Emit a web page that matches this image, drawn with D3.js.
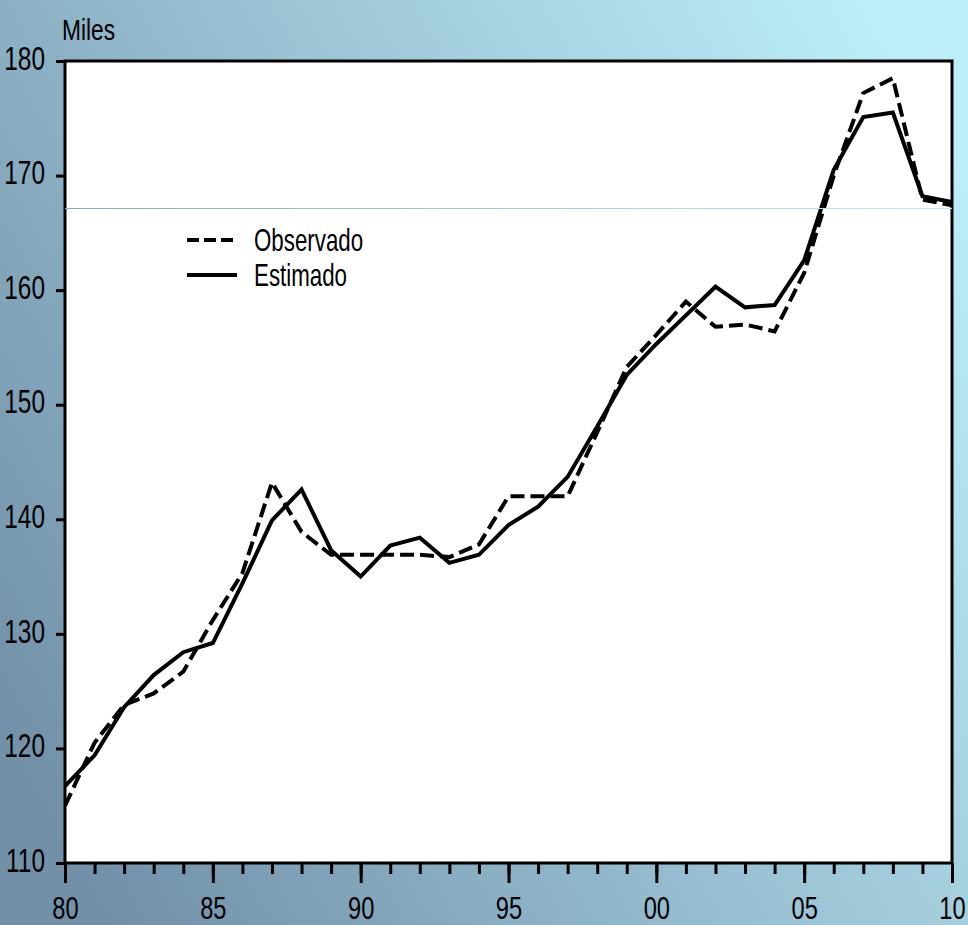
<!doctype html>
<html>
<head>
<meta charset="utf-8">
<script src="https://d3js.org/d3.v7.min.js"></script>
<style>
  body { margin: 0; }
  svg text { font-family: "Liberation Sans", Arial, sans-serif; fill: #000; }
</style>
</head>
<body>
<script>
// data (thousands, "Miles")
var years = [1980, 1981, 1982, 1983, 1984, 1985, 1986, 1987, 1988, 1989,
             1990, 1991, 1992, 1993, 1994, 1995, 1996, 1997, 1998, 1999,
             2000, 2001, 2002, 2003, 2004, 2005, 2006, 2007, 2008, 2009, 2010];

var observado = [115.0, 120.5, 123.8, 124.8, 126.7, 131.2, 135.3, 143.2, 138.9, 136.9,
                 136.9, 136.9, 136.9, 136.7, 137.8, 142.0, 142.0, 142.0, 147.6, 153.3,
                 156.1, 159.0, 156.8, 157.0, 156.4, 161.5, 170.0, 177.2, 178.5, 167.9, 167.4];

var estimado = [116.7, 119.4, 123.6, 126.4, 128.4, 129.2, 134.4, 139.9, 142.6, 137.3,
                135.0, 137.7, 138.4, 136.2, 136.9, 139.5, 141.1, 143.7, 148.1, 152.6,
                155.3, 157.8, 160.3, 158.5, 158.7, 162.6, 170.5, 175.1, 175.5, 168.2, 167.7];

var yTicks = [110, 120, 130, 140, 150, 160, 170, 180];
var xMajor = [1980, 1985, 1990, 1995, 2000, 2005, 2010];
var xLabels = ["80", "85", "90", "95", "00", "05", "10"];
var seriesNames = ["Observado", "Estimado"];
var refLevel = 167.2;   // thin light band across the plot

var W = 968, H = 925;
var margin = {top: 61, right: 16, bottom: 62, left: 65},
    width = W - margin.left - margin.right,
    height = H - margin.top - margin.bottom;

var x = d3.scaleLinear().domain([1980, 2010]).range([0, width]);
var y = d3.scaleLinear().domain([110, 180]).range([height, 0]);

var svg = d3.select("body").append("svg")
    .attr("width", W)
    .attr("height", H);

// background gradient
var defs = svg.append("defs");
var grad = defs.append("linearGradient")
    .attr("id", "bg")
    .attr("gradientUnits", "userSpaceOnUse")
    .attr("x1", 0).attr("y1", H * 0.8)
    .attr("x2", W).attr("y2", H * 0.2);
grad.append("stop").attr("offset", "0%").attr("stop-color", "#7290a8");
grad.append("stop").attr("offset", "50%").attr("stop-color", "#98c0d2");
grad.append("stop").attr("offset", "100%").attr("stop-color", "#bdedf9");

svg.append("rect")
    .attr("width", W)
    .attr("height", H)
    .attr("fill", "url(#bg)");

var g = svg.append("g")
    .attr("transform", "translate(" + margin.left + "," + margin.top + ")");

g.append("rect")
    .attr("width", width)
    .attr("height", height)
    .attr("fill", "#fff");

// the see-through line at ~167 (drawn in page space so the gradient lines up)
var refY = Math.round(y(refLevel)) + margin.top + 0.5;
svg.append("line")
    .attr("x1", margin.left).attr("x2", margin.left + width)
    .attr("y1", refY).attr("y2", refY)
    .attr("stroke", "url(#bg)")
    .attr("stroke-width", 1);

// lines
var obsData = years.map(function(d, i) { return {year: d, v: observado[i]}; });
var estData = years.map(function(d, i) { return {year: d, v: estimado[i]}; });

var line = d3.line()
    .x(function(d) { return x(d.year); })
    .y(function(d) { return y(d.v); });

var clip = defs.append("clipPath").attr("id", "plotclip");
clip.append("rect").attr("width", width).attr("height", height);

g.append("path")
    .datum(estData)
    .attr("clip-path", "url(#plotclip)")
    .attr("fill", "none")
    .attr("stroke", "#000")
    .attr("stroke-width", 4)
    .attr("d", line);

g.append("path")
    .datum(obsData)
    .attr("clip-path", "url(#plotclip)")
    .attr("fill", "none")
    .attr("stroke", "#000")
    .attr("stroke-width", 4)
    .attr("stroke-dasharray", "14,6")
    .attr("d", line);

// frame
g.append("rect")
    .attr("width", width)
    .attr("height", height)
    .attr("fill", "none")
    .attr("stroke", "#000")
    .attr("stroke-width", 3);

// y axis
var yAxis = g.append("g")
    .call(d3.axisLeft(y).tickValues(yTicks).tickSize(9).tickPadding(0).tickFormat(d3.format("d")));
yAxis.select(".domain").remove();
yAxis.selectAll(".tick line").attr("stroke", "#000").attr("stroke-width", 3);
yAxis.selectAll(".tick text")
    .attr("font-size", 33)
    .attr("x", -27)
    .attr("dy", "0.25em")
    .attr("transform", "scale(0.74,1)");

// x axis: minor ticks every year, major every five
var xAxisMinor = g.append("g")
    .attr("transform", "translate(0," + height + ")")
    .call(d3.axisBottom(x).tickValues(years).tickSize(11).tickFormat(""));
xAxisMinor.select(".domain").remove();
xAxisMinor.selectAll(".tick line").attr("stroke", "#000").attr("stroke-width", 3);

var xAxis = g.append("g")
    .attr("transform", "translate(0," + height + ")")
    .call(d3.axisBottom(x).tickValues(xMajor).tickSize(20)
        .tickFormat(function(d, i) { return xLabels[i]; }));
xAxis.select(".domain").remove();
xAxis.selectAll(".tick line").attr("stroke", "#000").attr("stroke-width", 3);
xAxis.selectAll(".tick text")
    .attr("font-size", 32)
    .attr("y", 56)
    .attr("dy", 0)
    .attr("transform", "scale(0.74,1)");

// unit label
svg.append("text")
    .attr("x", 62 / 0.76)
    .attr("y", 40)
    .attr("font-size", 30)
    .attr("transform", "scale(0.76,1)")
    .text("Miles");

// legend
var legend = svg.append("g").attr("transform", "translate(187,240)");
seriesNames.forEach(function(name, i) {
    var row = legend.append("g").attr("transform", "translate(0," + (i * 35) + ")");
    row.append("line")
        .attr("x1", 0).attr("x2", 50)
        .attr("stroke", "#000")
        .attr("stroke-width", 4)
        .attr("stroke-dasharray", i === 0 ? "12,5" : null);
    row.append("text")
        .attr("x", 67 / 0.72)
        .attr("y", 11)
        .attr("font-size", 31)
        .attr("transform", "scale(0.72,1)")
        .text(name);
});
</script>
</body>
</html>
